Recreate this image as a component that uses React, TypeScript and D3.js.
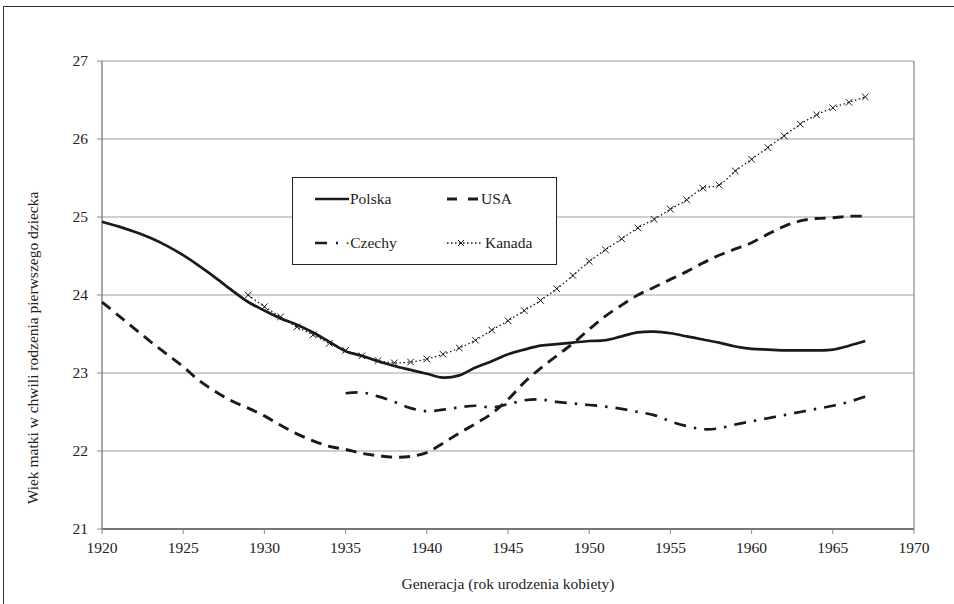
import React from "react";
import * as d3 from "d3";

const polskaYears = d3.range(1920, 1968);
const polskaValues = [
  24.94, 24.88, 24.81, 24.73, 24.63, 24.51, 24.37, 24.22, 24.06, 23.91,
  23.80, 23.70, 23.62, 23.52, 23.40, 23.28, 23.22, 23.15, 23.09, 23.04,
  22.99, 22.94, 22.97, 23.07, 23.15, 23.24, 23.30, 23.35, 23.37, 23.39,
  23.41, 23.42, 23.47, 23.52, 23.53, 23.51, 23.47, 23.43, 23.39, 23.34,
  23.31, 23.30, 23.29, 23.29, 23.29, 23.30, 23.35, 23.41,
];

const usaYears = d3.range(1920, 1968);
const usaValues = [
  23.91, 23.74, 23.57, 23.40, 23.24, 23.08, 22.90, 22.76, 22.64, 22.55,
  22.45, 22.33, 22.22, 22.13, 22.06, 22.02, 21.97, 21.94, 21.92, 21.93,
  21.98, 22.10, 22.23, 22.35, 22.48, 22.66, 22.88, 23.06, 23.22, 23.38,
  23.56, 23.73, 23.87, 24.00, 24.10, 24.20, 24.30, 24.41, 24.51, 24.59,
  24.67, 24.78, 24.88, 24.95, 24.98, 24.99, 25.01, 25.01,
];

const czechyYears = d3.range(1935, 1968);
const czechyValues = [
  22.74, 22.75, 22.70, 22.63, 22.55, 22.51, 22.53, 22.56, 22.58, 22.56,
  22.60, 22.65, 22.66, 22.63, 22.61, 22.59, 22.57, 22.54, 22.50, 22.46,
  22.38, 22.32, 22.28, 22.29, 22.34, 22.38, 22.42, 22.46, 22.50, 22.54,
  22.58, 22.63, 22.70,
];

const kanadaYears = d3.range(1929, 1968);
const kanadaValues = [
  24.00, 23.85, 23.72, 23.59, 23.49, 23.38, 23.29, 23.22, 23.16, 23.13,
  23.14, 23.18, 23.24, 23.32, 23.42, 23.55, 23.67, 23.80, 23.93, 24.08,
  24.25, 24.43, 24.58, 24.72, 24.86, 24.97, 25.10, 25.22, 25.37, 25.41,
  25.59, 25.74, 25.89, 26.04, 26.19, 26.31, 26.40, 26.47, 26.54,
];

const xTicks = [1920, 1925, 1930, 1935, 1940, 1945, 1950, 1955, 1960, 1965, 1970];
const yTicks = [21, 22, 23, 24, 25, 26, 27];

const xTitle = "Generacja (rok urodzenia kobiety)";
const yTitle = "Wiek matki w chwili rodzenia pierwszego dziecka";
const legendLabels = ["Polska", "USA", "Czechy", "Kanada"];

const W = 954;
const H = 604;
const left = 102;
const right = 914;
const top = 61;
const bottom = 529;

const FONT = "'Liberation Serif', 'Times New Roman', serif";
const INK = "#1a1a1a";
const GRID = "#a0a0a0";
const TXT = "#222";
const FS = 15.5;

const USA_DASH = "11,7";
const CZ_DASH = "12,8,2.5,8";
const KA_DASH = "1.5,2.5";

export default function App() {
  const x = d3.scaleLinear().domain([1920, 1970]).range([left, right]);
  const y = d3.scaleLinear().domain([21, 27]).range([bottom, top]);
  const line = d3
    .line<[number, number]>()
    .x((d) => x(d[0]))
    .y((d) => y(d[1]))
    .curve(d3.curveCatmullRom.alpha(0.5));

  const pts = (ys: number[], vs: number[]) => ys.map((yr, i) => [yr, vs[i]] as [number, number]);

  const polska = pts(polskaYears, polskaValues);
  const usa = pts(usaYears, usaValues);
  const czechy = pts(czechyYears, czechyValues);
  const kanada = pts(kanadaYears, kanadaValues);

  const cross = (cx: number, cy: number, k: string, s = 3.3) => (
    <path
      key={k}
      d={`M${cx - s},${cy - s}L${cx + s},${cy + s}M${cx - s},${cy + s}L${cx + s},${cy - s}`}
      stroke={INK}
      strokeWidth={1}
      fill="none"
    />
  );

  const lg = { x: 292, y: 177, w: 264, h: 87 };
  const row1 = 199;
  const row2 = 243;

  return (
    <div style={{ position: "absolute", left: 0, top: 0 }}>
      <svg width={W} height={H} style={{ display: "block", background: "#fff" }} fontFamily={FONT}>
        <rect x={3.5} y={6.5} width={W + 10} height={H + 10} fill="#fff" stroke="#333" strokeWidth={1} />

        {/* gridlines */}
        {yTicks.slice(1).map((t) => (
          <line key={"g" + t} x1={left} x2={right} y1={y(t)} y2={y(t)} stroke={GRID} strokeWidth={1.2} />
        ))}
        {/* plot border */}
        <line x1={right} x2={right} y1={top} y2={bottom} stroke="#888" strokeWidth={1.2} />
        <line x1={left} x2={left} y1={top} y2={bottom} stroke="#888" strokeWidth={1.5} />
        <line x1={left} x2={right} y1={bottom} y2={bottom} stroke="#777" strokeWidth={1.8} />

        {/* y ticks */}
        {yTicks.map((t) => (
          <g key={"yt" + t}>
            <line x1={left - 5} x2={left} y1={y(t)} y2={y(t)} stroke="#888" strokeWidth={1} />
            <text x={left - 14} y={y(t)} dy="0.35em" textAnchor="end" fontSize={FS} fill={TXT}>
              {t}
            </text>
          </g>
        ))}
        {/* x ticks */}
        {xTicks.map((t) => (
          <g key={"xt" + t}>
            <line x1={x(t)} x2={x(t)} y1={bottom} y2={bottom + 5} stroke="#888" strokeWidth={1} />
            <text x={x(t)} y={bottom + 24} textAnchor="middle" fontSize={FS} fill={TXT}>
              {t}
            </text>
          </g>
        ))}

        <text x={(left + right) / 2} y={589} textAnchor="middle" fontSize={FS} fill={TXT}>
          {xTitle}
        </text>
        <text
          transform={`translate(${38},${348}) rotate(-90)`}
          textAnchor="middle"
          fontSize={FS}
          fill={TXT}
        >
          {yTitle}
        </text>

        {/* series */}
        <path d={line(kanada) || ""} fill="none" stroke={INK} strokeWidth={1.3} strokeDasharray={KA_DASH} />
        {kanada.map((d, i) => cross(x(d[0]), y(d[1]), "k" + i))}
        <path d={line(czechy) || ""} fill="none" stroke={INK} strokeWidth={2.7} strokeDasharray={CZ_DASH} />
        <path d={line(usa) || ""} fill="none" stroke={INK} strokeWidth={2.9} strokeDasharray={USA_DASH} />
        <path d={line(polska) || ""} fill="none" stroke={INK} strokeWidth={2.7} />

        {/* legend */}
        <rect x={lg.x + 0.5} y={lg.y + 0.5} width={lg.w} height={lg.h} fill="#fff" stroke="#222" strokeWidth={1} />
        <line x1={315} x2={349} y1={row1} y2={row1} stroke={INK} strokeWidth={2.7} />
        <text x={350} y={row1} dy="0.35em" fontSize={FS} fill={TXT}>{legendLabels[0]}</text>
        <line x1={447} x2={479} y1={row1} y2={row1} stroke={INK} strokeWidth={2.9} strokeDasharray="10,11" />
        <text x={481} y={row1} dy="0.35em" fontSize={FS} fill={TXT}>{legendLabels[1]}</text>
        <line x1={315} x2={344} y1={row2} y2={row2} stroke={INK} strokeWidth={2.7} strokeDasharray="12,9,2,9" />
        <text x={345} y={row2} dy="0.35em" fontSize={FS} fill={TXT}>{"·" + legendLabels[2]}</text>
        <line x1={447} x2={481} y1={row2} y2={row2} stroke={INK} strokeWidth={1.3} strokeDasharray={KA_DASH} />
        {cross(461, row2, "lgk", 3)}
        <text x={485} y={row2} dy="0.35em" fontSize={FS} fill={TXT}>{legendLabels[3]}</text>
      </svg>
    </div>
  );
}
